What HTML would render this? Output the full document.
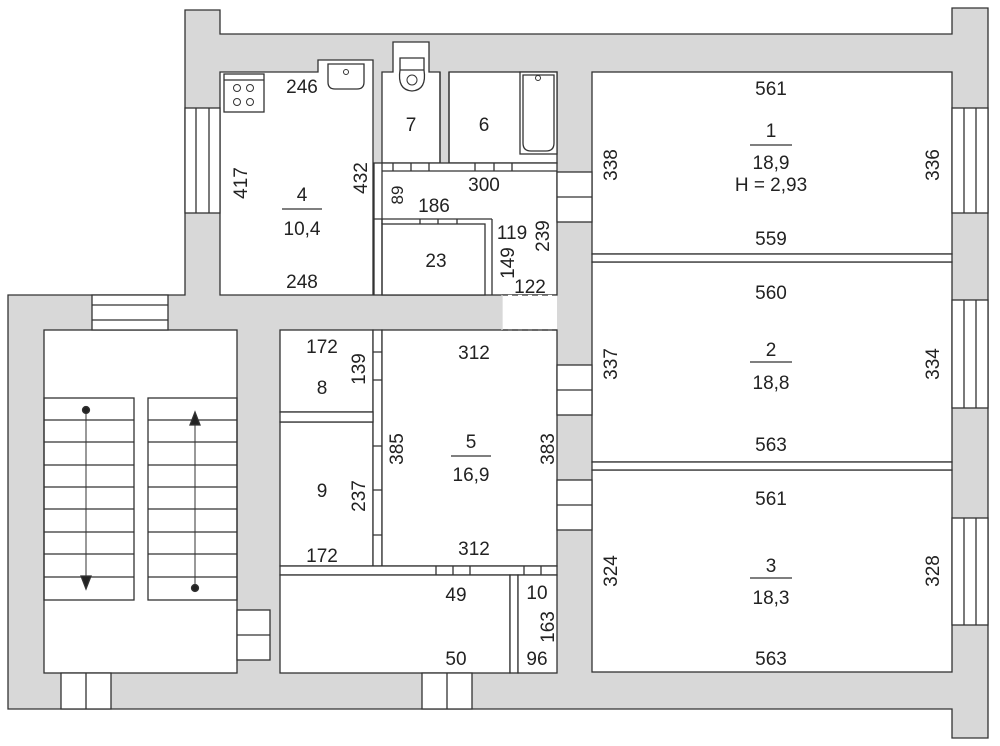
<!DOCTYPE html>
<html><head><style>
body{margin:0;background:#fff}
svg{display:block}
text{font-family:"Liberation Sans",sans-serif;font-size:19px;fill:#222;text-anchor:middle}
</style></head><body>
<svg width="1000" height="746" viewBox="0 0 1000 746" xmlns="http://www.w3.org/2000/svg">
<g stroke="#333" stroke-width="1.3">
<path d="M185 10 H220 V34 H952 V8 H988 V738 H952 V709 H8 V295 H185 Z" fill="#d8d8d8"/>
<g fill="#fff">
<path d="M220 72 H318 V60 H373 V295 H220 Z"/>
<path d="M382 72 H393 V42 H429 V72 H440 V163 H382 Z"/>
<rect x="449" y="72" width="108" height="91"/>
<rect x="374" y="163" width="183" height="132"/>
<rect x="502" y="295" width="55" height="35" stroke="none"/>
<rect x="592" y="72" width="360" height="182"/>
<rect x="592" y="262" width="360" height="200"/>
<rect x="592" y="470" width="360" height="202"/>
<rect x="44" y="330" width="193" height="343"/>
<rect x="280" y="330" width="93" height="82"/>
<rect x="280" y="422" width="93" height="144"/>
<rect x="373" y="330" width="9" height="236"/>
<rect x="382" y="330" width="175" height="236"/>
<rect x="280" y="566" width="277" height="9"/>
<rect x="280" y="575" width="230" height="98"/>
<rect x="510" y="575" width="8" height="98"/>
<rect x="518" y="575" width="39" height="98"/>
<rect x="280" y="412" width="93" height="10"/>
<rect x="185" y="108" width="35" height="105"/>
<rect x="92" y="295" width="76" height="35"/>
<rect x="952" y="108" width="36" height="105"/>
<rect x="952" y="300" width="36" height="108"/>
<rect x="952" y="518" width="36" height="107"/>
<rect x="557" y="172" width="35" height="50"/>
<rect x="557" y="365" width="35" height="50"/>
<rect x="557" y="480" width="35" height="50"/>
<rect x="237" y="610" width="33" height="50"/>
<rect x="61" y="673" width="50" height="36"/>
<rect x="422" y="673" width="50" height="36"/>
<rect x="382" y="224" width="103" height="71"/>
<rect x="592" y="254" width="360" height="8"/>
<rect x="592" y="462" width="360" height="8"/>
</g>
<line x1="196" y1="108" x2="196" y2="213"/><line x1="209" y1="108" x2="209" y2="213"/>
<line x1="92" y1="305" x2="168" y2="305"/><line x1="92" y1="320" x2="168" y2="320"/>
<line x1="964" y1="108" x2="964" y2="213"/><line x1="976" y1="108" x2="976" y2="213"/>
<line x1="964" y1="300" x2="964" y2="408"/><line x1="976" y1="300" x2="976" y2="408"/>
<line x1="964" y1="518" x2="964" y2="625"/><line x1="976" y1="518" x2="976" y2="625"/>
<line x1="557" y1="197" x2="592" y2="197"/><line x1="557" y1="390" x2="592" y2="390"/><line x1="557" y1="505" x2="592" y2="505"/>
<line x1="237" y1="635" x2="270" y2="635"/>
<line x1="86" y1="673" x2="86" y2="709"/><line x1="447" y1="673" x2="447" y2="709"/>
<line x1="382" y1="163" x2="382" y2="295"/>
<line x1="382" y1="171" x2="557" y2="171"/>
<line x1="440" y1="72" x2="440" y2="163"/><line x1="449" y1="72" x2="449" y2="163"/>
<line x1="374" y1="219" x2="492" y2="219"/><line x1="492" y1="219" x2="492" y2="295"/>
<line x1="382" y1="219" x2="382" y2="224"/>
<line x1="502" y1="295" x2="557" y2="295" stroke-dasharray="6,4"/>
<line x1="502" y1="330" x2="557" y2="330" stroke-dasharray="6,4"/>
<line x1="502" y1="295" x2="502" y2="330" stroke="#d8d8d8"/>
<g fill="none">
<path d="M393 163 V171 M411 163 V171 M429 163 V171 M475 163 V171 M494 163 V171 M512 163 V171"/>
<path d="M420 219 V224 M438 219 V224 M457 219 V224"/>
<path d="M373 352 H382 M373 380 H382 M373 446 H382 M373 490 H382 M373 535 H382"/>
<path d="M436 566 V575 M453 566 V575 M470 566 V575 M524 566 V575 M541 566 V575"/>
</g>
<rect x="224" y="74" width="40" height="38" fill="#fff"/>
<line x1="224" y1="80" x2="264" y2="80"/>
<g fill="none" stroke-width="1"><circle cx="237" cy="88" r="3.5"/><circle cx="250" cy="88" r="3.5"/><circle cx="237" cy="102" r="3.5"/><circle cx="250" cy="102" r="3.5"/></g>
<path d="M328 64 H364 V82 Q364 89 357 89 H335 Q328 89 328 82 Z" fill="#fff"/>
<circle cx="346" cy="72" r="2.5" fill="none" stroke-width="1"/>
<path d="M400 58 H424 V70 H400 Z M400 70 Q397 90 412 91 Q427 90 424 70" fill="#fff"/>
<circle cx="412" cy="80" r="5" fill="none" stroke-width="1"/>
<rect x="520" y="72" width="37" height="82" fill="#fff"/>
<path d="M523 75 H554 V143 Q554 151 546 151 H531 Q523 151 523 143 Z" fill="none"/>
<circle cx="538" cy="78" r="2.5" fill="none" stroke-width="1"/>
<g fill="none">
<rect x="44" y="398" width="90" height="202"/>
<rect x="148" y="398" width="89" height="202"/>
<path d="M44 420H134M44 442H134M44 465H134M44 487H134M44 509H134M44 532H134M44 554H134M44 577H134"/>
<path d="M148 420H237M148 442H237M148 465H237M148 487H237M148 509H237M148 532H237M148 554H237M148 577H237"/>
<line x1="86" y1="410" x2="86" y2="580" stroke-width="1"/>
<line x1="195" y1="420" x2="195" y2="588" stroke-width="1"/>
</g>
<circle cx="86" cy="410" r="3.5" fill="#222"/>
<path d="M81 576 L91 576 L86 589 Z" fill="#222"/>
<circle cx="195" cy="588" r="3.5" fill="#222"/>
<path d="M190 425 L200 425 L195 412 Z" fill="#222"/>
<line x1="282" y1="209" x2="322" y2="209"/>
<line x1="750" y1="145" x2="792" y2="145"/>
<line x1="750" y1="362" x2="792" y2="362"/>
<line x1="750" y1="578" x2="792" y2="578"/>
<line x1="451" y1="456" x2="491" y2="456"/>
</g>
<text x="302" y="93">246</text>
<text x="302" y="201">4</text>
<text x="302" y="235">10,4</text>
<text x="302" y="288">248</text>
<text transform="translate(247,183) rotate(-90)">417</text>
<text transform="translate(367,178) rotate(-90)">432</text>
<text x="411" y="131">7</text>
<text x="484" y="131">6</text>
<text x="484" y="191">300</text>
<text transform="translate(403,195) rotate(-90)" style="font-size:17px">89</text>
<text x="434" y="212">186</text>
<text x="436" y="267">23</text>
<text x="512" y="239">119</text>
<text transform="translate(549,236) rotate(-90)">239</text>
<text transform="translate(514,263) rotate(-90)">149</text>
<text x="530" y="293">122</text>
<text x="771" y="95">561</text>
<text x="771" y="137">1</text>
<text x="771" y="169">18,9</text>
<text x="771" y="191">H = 2,93</text>
<text x="771" y="245">559</text>
<text transform="translate(617,165) rotate(-90)">338</text>
<text transform="translate(939,165) rotate(-90)">336</text>
<text x="771" y="299">560</text>
<text x="771" y="356">2</text>
<text x="771" y="389">18,8</text>
<text x="771" y="451">563</text>
<text transform="translate(617,364) rotate(-90)">337</text>
<text transform="translate(939,364) rotate(-90)">334</text>
<text x="771" y="505">561</text>
<text x="771" y="572">3</text>
<text x="771" y="604">18,3</text>
<text x="771" y="665">563</text>
<text transform="translate(617,571) rotate(-90)">324</text>
<text transform="translate(939,571) rotate(-90)">328</text>
<text x="322" y="353">172</text>
<text x="322" y="394">8</text>
<text transform="translate(365,369) rotate(-90)">139</text>
<text x="322" y="497">9</text>
<text transform="translate(365,496) rotate(-90)">237</text>
<text x="322" y="562">172</text>
<text x="474" y="359">312</text>
<text x="471" y="448">5</text>
<text x="471" y="481">16,9</text>
<text x="474" y="555">312</text>
<text transform="translate(403,449) rotate(-90)">385</text>
<text transform="translate(554,449) rotate(-90)">383</text>
<text x="456" y="601">49</text>
<text x="456" y="665">50</text>
<text x="537" y="599">10</text>
<text transform="translate(554,627) rotate(-90)">163</text>
<text x="537" y="665">96</text>
</svg>
</body></html>
